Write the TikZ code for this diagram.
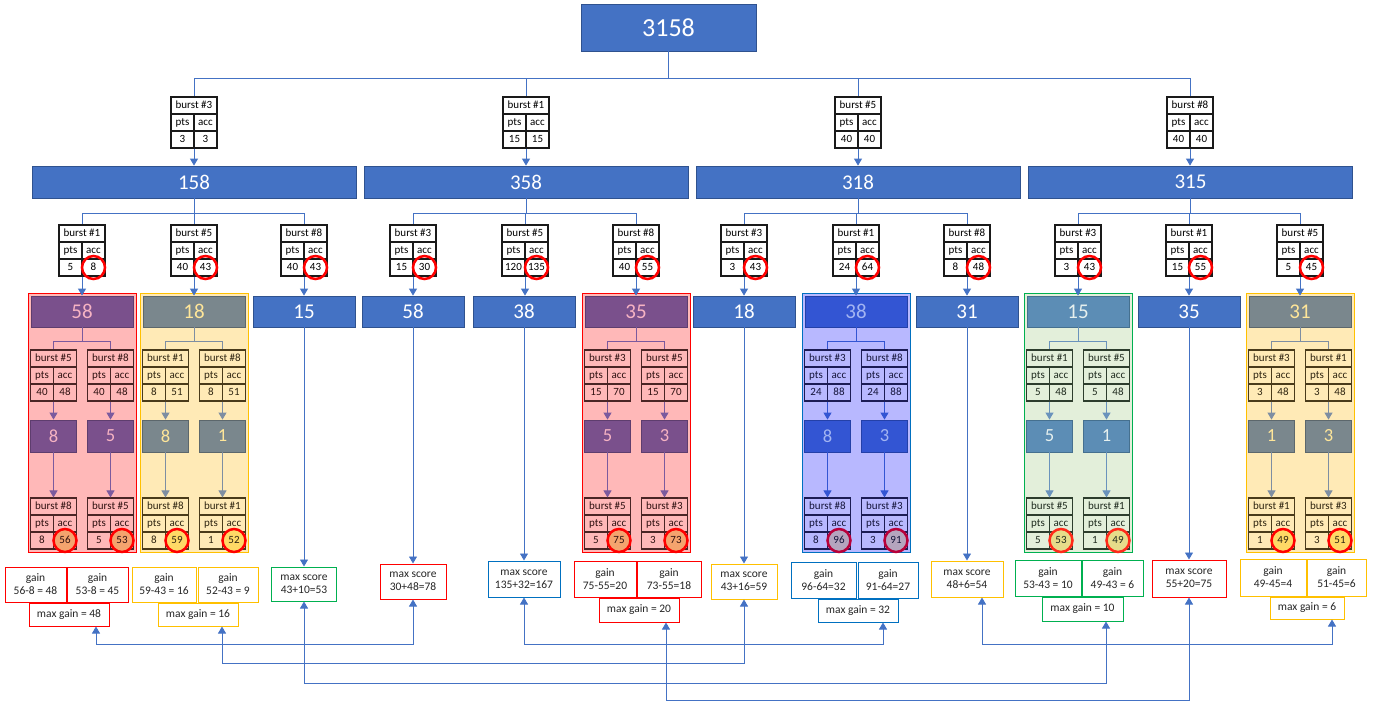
\documentclass[tikz,border=0pt]{standalone}
\usepackage{fontspec}
\setmainfont{Carlito}
\usetikzlibrary{arrows.meta}
\definecolor{mblue}{HTML}{4472C4}
% plain set
\definecolor{plainBF}{HTML}{4472C4}\definecolor{plainBB}{HTML}{2F528F}\definecolor{plainBT}{HTML}{FFFFFF}
\definecolor{plainL}{HTML}{1A1A1A}\definecolor{plainT}{HTML}{000000}\definecolor{plainTF}{HTML}{FFFFFF}
% red set
\definecolor{redRF}{HTML}{FFB8B8}\definecolor{redRD}{HTML}{FF0000}\definecolor{redBF}{HTML}{7A508C}
\definecolor{redBB}{HTML}{5E3D6E}\definecolor{redBT}{HTML}{F6B3C3}\definecolor{redL}{HTML}{4A2525}
\definecolor{redT}{HTML}{2E1010}\definecolor{redC}{HTML}{7B5A9E}\definecolor{redCF}{HTML}{F4A46E}
\definecolor{redCC}{HTML}{FF0000}\definecolor{redTF}{HTML}{FFB8B8}
% yellow set
\definecolor{yelRF}{HTML}{FFEAB6}\definecolor{yelRD}{HTML}{FFC000}\definecolor{yelBF}{HTML}{7A878D}
\definecolor{yelBB}{HTML}{5C676C}\definecolor{yelBT}{HTML}{FFE699}\definecolor{yelL}{HTML}{4A3B1A}
\definecolor{yelT}{HTML}{2E2410}\definecolor{yelC}{HTML}{7E8EA2}\definecolor{yelCF}{HTML}{FFD966}
\definecolor{yelCC}{HTML}{FF0000}\definecolor{yelTF}{HTML}{FFEAB6}
% blue set
\definecolor{bluRF}{HTML}{B8B8FF}\definecolor{bluRD}{HTML}{0070C0}\definecolor{bluBF}{HTML}{3355D3}
\definecolor{bluBB}{HTML}{2440A8}\definecolor{bluBT}{HTML}{A3B5F2}\definecolor{bluL}{HTML}{1C1C55}
\definecolor{bluT}{HTML}{14143A}\definecolor{bluC}{HTML}{3355D3}\definecolor{bluCF}{HTML}{B5A5BE}
\definecolor{bluCC}{HTML}{B8003A}\definecolor{bluTF}{HTML}{B8B8FF}
% green set
\definecolor{grnRF}{HTML}{E3EFDA}\definecolor{grnRD}{HTML}{00B050}\definecolor{grnBF}{HTML}{5C8DB5}
\definecolor{grnBB}{HTML}{45708F}\definecolor{grnBT}{HTML}{E6F0EE}\definecolor{grnL}{HTML}{2D3D2D}
\definecolor{grnT}{HTML}{1E2A1E}\definecolor{grnC}{HTML}{6A93BC}\definecolor{grnCF}{HTML}{E6DC8A}
\definecolor{grnCC}{HTML}{FF2A1A}\definecolor{grnTF}{HTML}{E3EFDA}
% result borders
\definecolor{rR}{HTML}{FF0000}\definecolor{rY}{HTML}{FFC000}
\definecolor{rB}{HTML}{0070C0}\definecolor{rG}{HTML}{00B050}

\tikzset{
 conn/.style={draw=mblue, line width=0.9pt},
 arr/.style={-{Triangle[width=8pt,length=7pt]}},
 darr/.style={{Triangle[width=8pt,length=7pt]}-{Triangle[width=8pt,length=7pt]}},
 bx/.style={rectangle, inner sep=0, line width=0.8pt, fill=#1BF, draw=#1BB, text=#1BT, font=\fontsize{21}{24}\selectfont},
 l2box/.style={bx=#1, minimum width=102pt, minimum height=31pt},
 midbox/.style={bx=#1, minimum width=46pt, minimum height=32pt, font=\fontsize{18.5}{20}\selectfont},
 regbox/.style={rectangle, inner sep=0, minimum width=108pt, minimum height=259pt, fill=#1RF, draw=#1RD, line width=1pt},
 tabframe/.style={rectangle, inner sep=0, minimum width=46pt, minimum height=51pt, draw=#1L, fill=#1TF, line width=1.1pt},
 tabline/.style={draw=#1L, line width=1.1pt},
 tabtx/.style={inner sep=0, text=#1T, font=\fontsize{11}{12}\selectfont, text height=6.9pt, text depth=0pt},
 hc/.style={circle, inner sep=0, minimum size=23pt, line width=2.5pt},
 subln/.style={draw=#1C, line width=0.9pt},
 resbox/.style={rectangle, inner sep=0, fill=white, draw=#1, line width=1pt, align=center, text=black!85, font=\fontsize{11.5}{13}\selectfont},
}

% #1 name #2 x #3 ytop #4 burst #5 pts #6 acc #7 set #8 circle fill #9 circle draw
\newcommand{\btab}[9]{%
  \node[tabframe=#7] (#1) at (#2,#3+25.5) {};
  \draw[tabline=#7] (#2-23,#3+17) -- (#2+23,#3+17) (#2-23,#3+34) -- (#2+23,#3+34) (#2,#3+17) -- (#2,#3+51);
  \node[hc, fill=#8, draw=#9] at (#2+11.5,#3+42.5) {};
  \node[tabtx=#7] at (#2,#3+8.5) {burst \##4};
  \node[tabtx=#7] at (#2-11.5,#3+25.5) {pts};
  \node[tabtx=#7] at (#2+11.5,#3+25.5) {acc};
  \node[tabtx=#7] at (#2-11.5,#3+42.5) {#5};
  \node[tabtx=#7] at (#2+11.5,#3+42.5) {#6};
}
% #1 id #2 x0 #3 set #4 number #5 table above
\newcommand{\regtop}[5]{%
  \node[regbox=#3] (#1reg) at (#2,422.5) {};
  \node[l2box=#3] (#1) at (#2,311.5) {#4};
  \draw[conn,arr] (#5.south) -- (#5.south |- #1.north);
  \coordinate (#1j) at (#2,341);
  \draw[subln=#3] (#1.south) -- (#1j);
}
% #1 id #2 x #3 set #4 burst #5 pts #6 acc #7 mid #8 acc2 #9 junction
\newcommand{\legpart}[9]{%
  \btab{#1a}{#2}{350}{#4}{#5}{#6}{#3}{none}{none}
  \node[midbox=#3] (#1m) at (#2,436) {#7};
  \btab{#1b}{#2}{498}{#7}{#7}{#8}{#3}{#3CF}{#3CC}
  \draw[subln=#3] (#9) -| (#1a.north);
  \draw[subln=#3,arr] (#1a.south) -- (#1m.north);
  \draw[subln=#3,arr] (#1m.south) -- (#1b.north);
}

\begin{document}
\begin{tikzpicture}[x=1pt,y=-1pt]
\useasboundingbox (0,0) rectangle (1373,707);

% top
\node[l2box=plain, minimum width=175pt, minimum height=47pt, font=\fontsize{26}{30}\selectfont] (top) at (668.5,27.5) {3158};
\coordinate (j0) at (668.5,78);
\draw[conn] (top.south) -- (j0);

% level 1 tables and boxes
\btab{t1}{194}{97}{3}{3}{3}{plain}{none}{none}
\btab{t2}{526}{97}{1}{15}{15}{plain}{none}{none}
\btab{t3}{858}{97}{5}{40}{40}{plain}{none}{none}
\btab{t4}{1190}{97}{8}{40}{40}{plain}{none}{none}
\foreach \t in {t1,t2,t3,t4} {\draw[conn] (j0) -| (\t.north);}
\node[l2box=plain, minimum width=324pt, minimum height=32pt] (L1) at (194,182) {158};
\node[l2box=plain, minimum width=324pt, minimum height=32pt] (L2) at (526,182) {358};
\node[l2box=plain, minimum width=324pt, minimum height=32pt] (L3) at (858,182) {318};
\node[l2box=plain, minimum width=324pt, minimum height=32pt] (L4) at (1190.5,182) {315};
\draw[conn,arr] (t1.south) -- (t1.south |- L1.north);
\draw[conn,arr] (t2.south) -- (t2.south |- L2.north);
\draw[conn,arr] (t3.south) -- (t3.south |- L3.north);
\draw[conn,arr] (t4.south) -- (t4.south |- L4.north);

% level 2 junctions
\coordinate (j1) at (194,213);
\coordinate (j2) at (525,213);
\coordinate (j3) at (856,213);
\coordinate (j4) at (1189,213);
\draw[conn] (L1.south) -- (L1.south |- j1);
\draw[conn] (L2.south) -- (L2.south |- j2);
\draw[conn] (L3.south) -- (L3.south |- j3);
\draw[conn] (L4.south) -- (L4.south |- j4);

% level 2 tables
\btab{t11}{82}{225}{1}{5}{8}{plain}{none}{rR}
\btab{t12}{194}{225}{5}{40}{43}{plain}{none}{rR}
\btab{t13}{304}{225}{8}{40}{43}{plain}{none}{rR}
\btab{t21}{413}{225}{3}{15}{30}{plain}{none}{rR}
\btab{t22}{525}{225}{5}{120}{135}{plain}{none}{rR}
\btab{t23}{636}{225}{8}{40}{55}{plain}{none}{rR}
\btab{t31}{744}{225}{3}{3}{43}{plain}{none}{rR}
\btab{t32}{856}{225}{1}{24}{64}{plain}{none}{rR}
\btab{t33}{967}{225}{8}{8}{48}{plain}{none}{rR}
\btab{t41}{1078}{225}{3}{3}{43}{plain}{none}{rR}
\btab{t42}{1189}{225}{1}{15}{55}{plain}{none}{rR}
\btab{t43}{1300}{225}{5}{5}{45}{plain}{none}{rR}
\foreach \t in {t11,t12,t13} {\draw[conn] (j1) -| (\t.north);}
\foreach \t in {t21,t22,t23} {\draw[conn] (j2) -| (\t.north);}
\foreach \t in {t31,t32,t33} {\draw[conn] (j3) -| (\t.north);}
\foreach \t in {t41,t42,t43} {\draw[conn] (j4) -| (\t.north);}

% plain level 2 boxes
\node[l2box=plain] (b13) at (304,311.5) {15};
\node[l2box=plain] (b21) at (413,311.5) {58};
\node[l2box=plain] (b22) at (524,311.5) {38};
\node[l2box=plain] (b31) at (744,311.5) {18};
\node[l2box=plain] (b33) at (967,311.5) {31};
\node[l2box=plain] (b42) at (1189,311.5) {35};
\foreach \t/\b in {t13/b13,t21/b21,t22/b22,t31/b31,t33/b33,t42/b42} {\draw[conn,arr] (\t.south) -- (\t.south |- \b.north);}

% highlighted regions
\regtop{r11}{82}{red}{58}{t11}
\legpart{r11l}{82-28.5}{red}{5}{40}{48}{8}{56}{r11j}
\legpart{r11r}{82+28.5}{red}{8}{40}{48}{5}{53}{r11j}

\regtop{r12}{194}{yel}{18}{t12}
\legpart{r12l}{194-28.5}{yel}{1}{8}{51}{8}{59}{r12j}
\legpart{r12r}{194+28.5}{yel}{8}{8}{51}{1}{52}{r12j}

\regtop{r23}{636}{red}{35}{t23}
\legpart{r23l}{636-28.5}{red}{3}{15}{70}{5}{75}{r23j}
\legpart{r23r}{636+28.5}{red}{5}{15}{70}{3}{73}{r23j}

\regtop{r32}{856}{blu}{38}{t32}
\legpart{r32l}{856-28.5}{blu}{3}{24}{88}{8}{96}{r32j}
\legpart{r32r}{856+28.5}{blu}{8}{24}{88}{3}{91}{r32j}

\regtop{r41}{1078}{grn}{15}{t41}
\legpart{r41l}{1078-28.5}{grn}{1}{5}{48}{5}{53}{r41j}
\legpart{r41r}{1078+28.5}{grn}{5}{5}{48}{1}{49}{r41j}

\regtop{r43}{1300}{yel}{31}{t43}
\legpart{r43l}{1300-28.5}{yel}{3}{3}{48}{1}{49}{r43j}
\legpart{r43r}{1300+28.5}{yel}{1}{3}{48}{3}{51}{r43j}

% result boxes
\node[resbox=rR, minimum width=61pt, minimum height=35pt] (g1a) at (35.5,584.5) {gain\\56-8 = 48};
\node[resbox=rR, minimum width=61pt, minimum height=35pt] (g1b) at (97.5,584.5) {gain\\53-8 = 45};
\node[resbox=rR, minimum width=80pt, minimum height=23pt] (mg1) at (69,614.5) {max gain = 48};
\node[resbox=rY, minimum width=64pt, minimum height=35pt] (g2a) at (164,584.5) {gain\\59-43 = 16};
\node[resbox=rY, minimum width=60pt, minimum height=35pt] (g2b) at (228,584.5) {gain\\52-43 = 9};
\node[resbox=rY, minimum width=80pt, minimum height=23pt] (mg2) at (198,614.5) {max gain = 16};
\node[resbox=rG, minimum width=65pt, minimum height=34pt] (ms1) at (304,584) {max score\\43+10=53};
\node[resbox=rR, minimum width=66pt, minimum height=35pt] (ms2) at (413,581.5) {max score\\30+48=78};
\node[resbox=rB, minimum width=72pt, minimum height=36pt] (ms3) at (524,579) {max score\\135+32=167};
\node[resbox=rR, minimum width=62pt, minimum height=36pt] (g3a) at (605,579) {gain\\75-55=20};
\node[resbox=rR, minimum width=64pt, minimum height=36pt] (g3b) at (669,579) {gain\\73-55=18};
\node[resbox=rR, minimum width=80pt, minimum height=24pt] (mg3) at (639,610) {max gain = 20};
\node[resbox=rY, minimum width=66pt, minimum height=35pt] (ms4) at (744,581.5) {max score\\43+16=59};
\node[resbox=rB, minimum width=65pt, minimum height=36pt] (g4a) at (823.5,580) {gain\\96-64=32};
\node[resbox=rB, minimum width=60pt, minimum height=36pt] (g4b) at (888,580) {gain\\91-64=27};
\node[resbox=rB, minimum width=80pt, minimum height=23pt] (mg4) at (858,610.5) {max gain = 32};
\node[resbox=rY, minimum width=72pt, minimum height=36pt] (ms5) at (967,579) {max score\\48+6=54};
\node[resbox=rG, minimum width=66pt, minimum height=36pt] (g5a) at (1048,578) {gain\\53-43 = 10};
\node[resbox=rG, minimum width=61pt, minimum height=36pt] (g5b) at (1112.5,578) {gain\\49-43 = 6};
\node[resbox=rG, minimum width=81pt, minimum height=24pt] (mg5) at (1082.5,609) {max gain = 10};
\node[resbox=rR, minimum width=74pt, minimum height=37pt] (ms6) at (1189,578.5) {max score\\55+20=75};
\node[resbox=rY, minimum width=66pt, minimum height=37pt] (g6a) at (1273,577.5) {gain\\49-45=4};
\node[resbox=rY, minimum width=59pt, minimum height=37pt] (g6b) at (1336.5,577.5) {gain\\51-45=6};
\node[resbox=rY, minimum width=74pt, minimum height=22pt] (mg6) at (1307,608) {max gain = 6};

% arrows from plain boxes to max score boxes
\draw[conn,arr] (b13.south) -- (b13.south |- ms1.north);
\draw[conn,arr] (b21.south) -- (b21.south |- ms2.north);
\draw[conn,arr] (b22.south) -- (b22.south |- ms3.north);
\draw[conn,arr] (b31.south) -- (b31.south |- ms4.north);
\draw[conn,arr] (b33.south) -- (b33.south |- ms5.north);
\draw[conn,arr] (b42.south) -- (b42.south |- ms6.north);

% bottom links
\coordinate (h1) at (0,644);
\coordinate (h2) at (0,663);
\coordinate (h3) at (0,683);
\coordinate (h4) at (0,700);
\draw[conn,darr] ([xshift=27pt]mg1.south) -- ([xshift=27pt]mg1.south |- h1) -| (ms2.south);
\draw[conn,darr] ([xshift=24pt]mg2.south) -- ([xshift=24pt]mg2.south |- h2) -| (ms4.south);
\draw[conn,darr] (ms1.south) -- (ms1.south |- h3) -| ([xshift=23.5pt]mg5.south);
\draw[conn,darr] (ms3.south) -- (ms3.south |- h1) -| ([xshift=25pt]mg4.south);
\draw[conn,darr] ([xshift=27pt]mg3.south) -- ([xshift=27pt]mg3.south |- h4) -| (ms6.south);
\draw[conn,darr] ([xshift=15pt]ms5.south) -- ([xshift=15pt]ms5.south |- h1) -| ([xshift=25pt]mg6.south);
\end{tikzpicture}
\end{document}
